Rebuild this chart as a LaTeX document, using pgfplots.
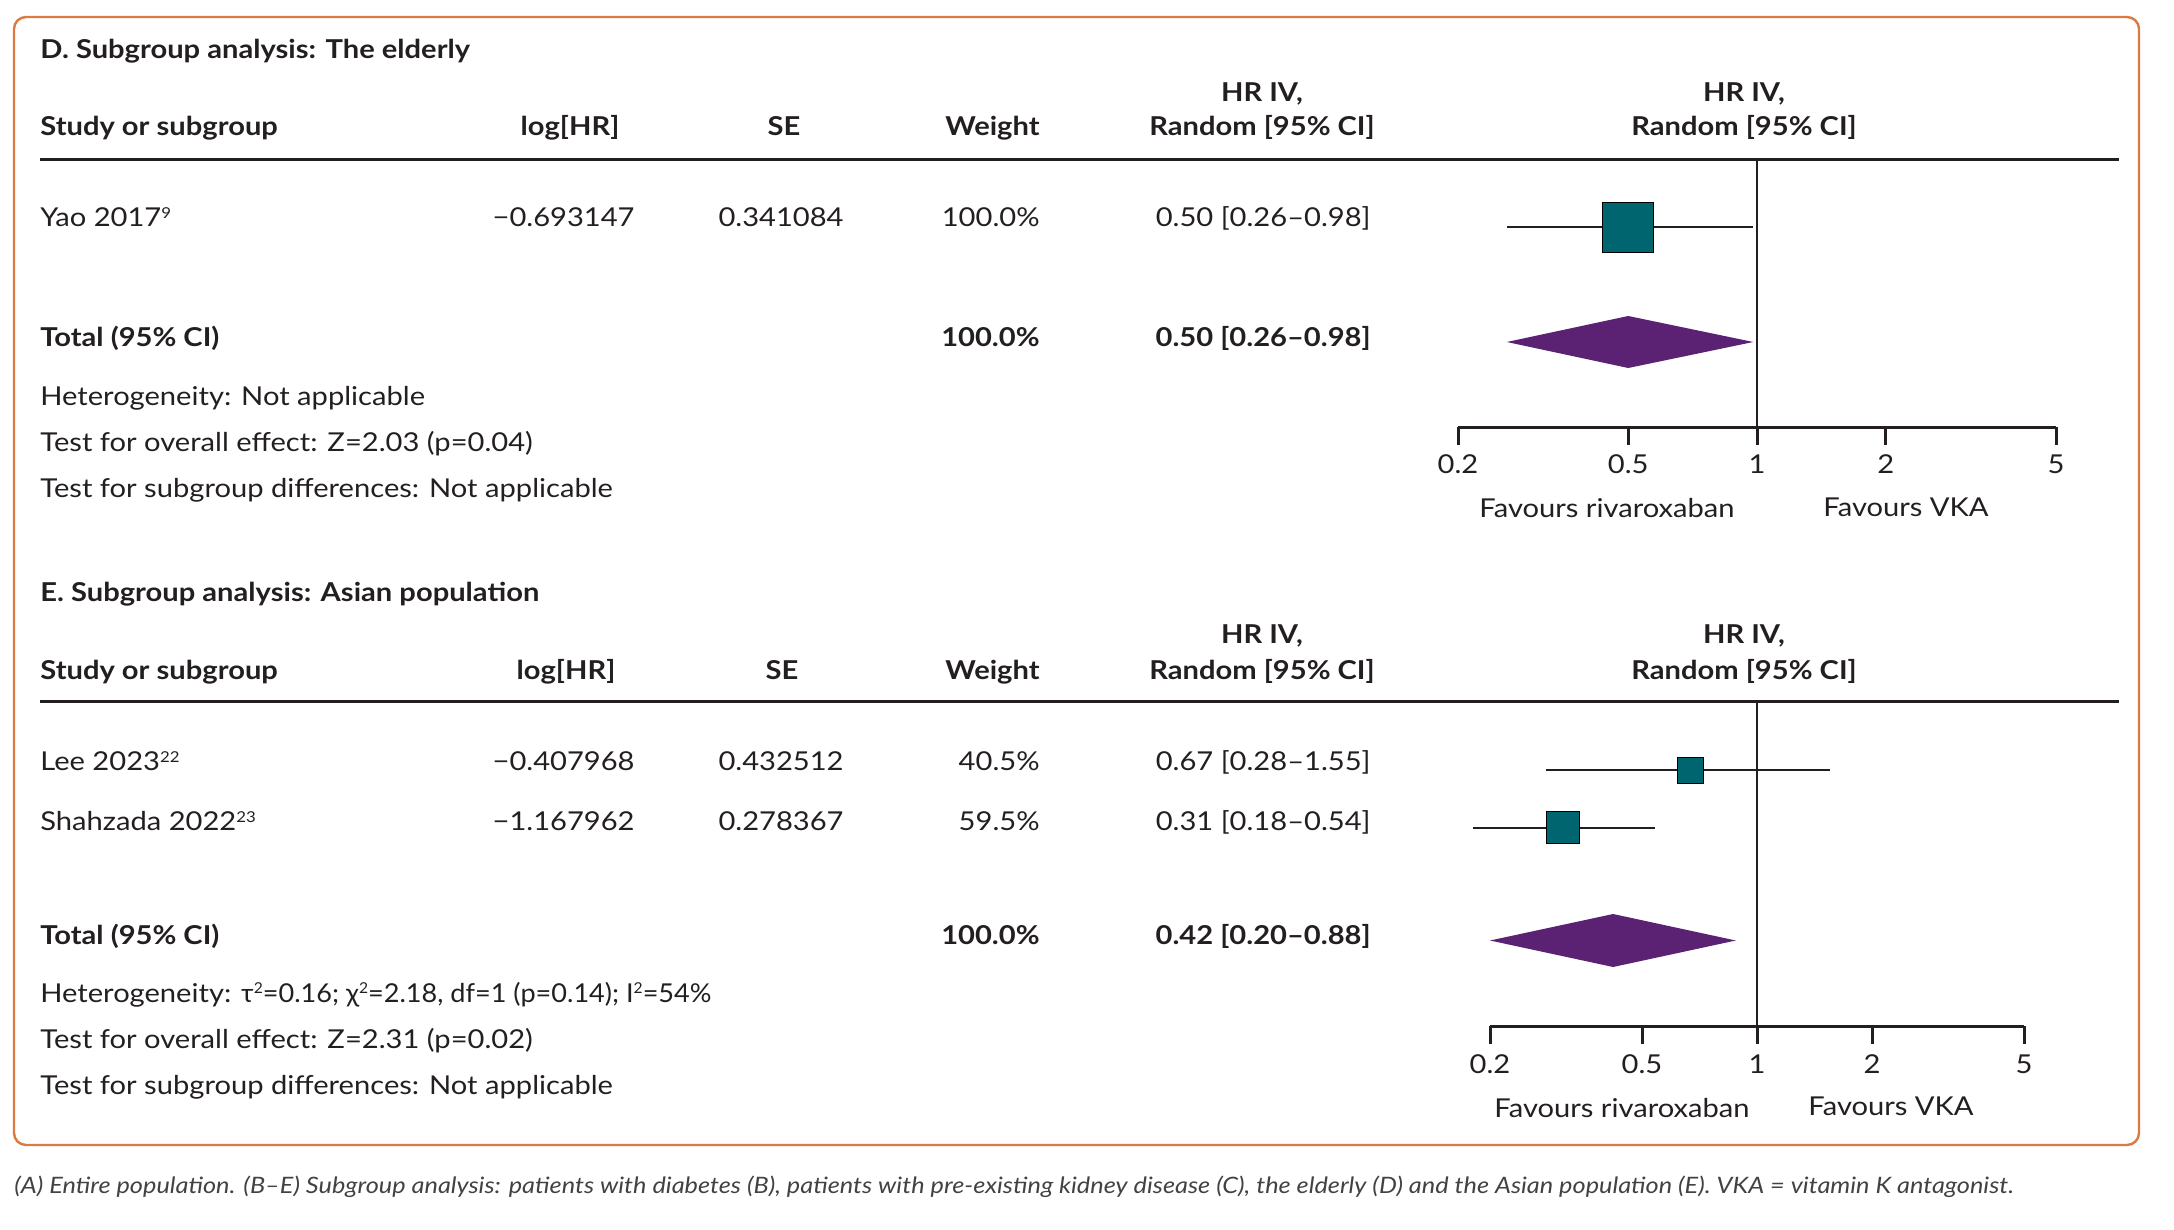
\documentclass[border=0pt]{standalone}
\usepackage{fontspec}
\setmainfont{Lato}[FakeStretch=1.12]
\usepackage{graphicx}
\usepackage{pgfplots}
\pgfplotsset{compat=1.18}
\definecolor{teal1}{HTML}{00656F}
\definecolor{purp}{HTML}{5B2274}
\definecolor{orng}{HTML}{DC7A42}
\definecolor{textc}{HTML}{231F20}
\tikzset{
  txt/.style={font=\fontsize{13}{15}\selectfont, inner sep=0pt, text=textc},
  btxt/.style={font=\fontsize{13}{15}\selectfont\bfseries, inner sep=0pt, text=textc},
}
\newcommand{\sq}[1]{\raisebox{0.62ex}{\fontsize{7.5}{8}\selectfont #1}}
\begin{document}
\begin{tikzpicture}
\begin{scope}[x=0.5pt,y=0.5pt]
\path[use as bounding box] (0,0) rectangle (2174,-1230);
\draw[orng, line width=1.2pt, rounded corners=6pt] (14,-17) rectangle (2139,-1145);

% ---------------- Panel D ----------------
\node[btxt, anchor=base west] at (40,-59) {D. Subgroup analysis: The elderly};
\node[btxt, anchor=base] at (1262,-102) {HR IV,};
\node[btxt, anchor=base] at (1744,-102) {HR IV,};
\node[btxt, anchor=base west] at (40,-136) {Study or subgroup};
\node[btxt, anchor=base] at (570,-136) {log[HR]};
\node[btxt, anchor=base] at (784,-136) {SE};
\node[btxt, anchor=base east] at (1040,-136) {Weight};
\node[btxt, anchor=base] at (1262,-136) {Random [95\% CI]};
\node[btxt, anchor=base] at (1744,-136) {Random [95\% CI]};
\draw[textc, line width=1.5pt] (40,-160) -- (2119,-160);

\node[txt, anchor=base west] at (40,-227) {Yao 2017\sq{9}};
\node[txt, anchor=base east] at (635,-227) {−0.693147};
\node[txt, anchor=base east] at (844,-227) {0.341084};
\node[txt, anchor=base east] at (1040,-227) {100.0\%};
\node[txt, anchor=base east] at (1371,-227) {0.50 [0.26–0.98]};

\node[btxt, anchor=base west] at (40,-346) {Total (95\% CI)};
\node[btxt, anchor=base east] at (1040,-346) {100.0\%};
\node[btxt, anchor=base east] at (1371,-346) {0.50 [0.26–0.98]};

\node[txt, anchor=base west] at (40,-405) {Heterogeneity: Not applicable};
\node[txt, anchor=base west] at (40,-451) {Test for overall effect: Z=2.03 (p=0.04)};
\node[txt, anchor=base west] at (40,-497) {Test for subgroup differences: Not applicable};

\node[txt, anchor=base] at (1607,-517) {Favours rivaroxaban};
\node[txt, anchor=base] at (1906,-516) {Favours VKA};

% ---------------- Panel E ----------------
\node[btxt, anchor=base west] at (40,-601) {E. Subgroup analysis: Asian population};
\node[btxt, anchor=base] at (1262,-643) {HR IV,};
\node[btxt, anchor=base] at (1744,-643) {HR IV,};
\node[btxt, anchor=base west] at (40,-679) {Study or subgroup};
\node[btxt, anchor=base] at (566,-679) {log[HR]};
\node[btxt, anchor=base] at (782,-679) {SE};
\node[btxt, anchor=base east] at (1040,-679) {Weight};
\node[btxt, anchor=base] at (1262,-679) {Random [95\% CI]};
\node[btxt, anchor=base] at (1744,-679) {Random [95\% CI]};
\draw[textc, line width=1.5pt] (40,-701.6) -- (2119,-701.6);

\node[txt, anchor=base west] at (40,-770.5) {Lee 2023\sq{22}};
\node[txt, anchor=base east] at (635,-770.5) {−0.407968};
\node[txt, anchor=base east] at (844,-770.5) {0.432512};
\node[txt, anchor=base east] at (1040,-770.5) {40.5\%};
\node[txt, anchor=base east] at (1371,-770.5) {0.67 [0.28–1.55]};

\node[txt, anchor=base west] at (40,-830.6) {Shahzada 2022\sq{23}};
\node[txt, anchor=base east] at (635,-830.6) {−1.167962};
\node[txt, anchor=base east] at (844,-830.6) {0.278367};
\node[txt, anchor=base east] at (1040,-830.6) {59.5\%};
\node[txt, anchor=base east] at (1371,-830.6) {0.31 [0.18–0.54]};

\node[btxt, anchor=base west] at (40,-944) {Total (95\% CI)};
\node[btxt, anchor=base east] at (1040,-944) {100.0\%};
\node[btxt, anchor=base east] at (1371,-944) {0.42 [0.20–0.88]};

\node[txt, anchor=base west] at (40,-1002) {Heterogeneity: \scalebox{0.93}[1]{τ\sq{2}=0.16; χ\sq{2}=2.18, df=1 (p=0.14); I\sq{2}=54\%}};
\node[txt, anchor=base west] at (40,-1048) {Test for overall effect: Z=2.31 (p=0.02)};
\node[txt, anchor=base west] at (40,-1094) {Test for subgroup differences: Not applicable};

\node[txt, anchor=base] at (1622,-1117) {Favours rivaroxaban};
\node[txt, anchor=base] at (1891,-1115) {Favours VKA};

% caption
\node[font=\fontsize{11.3}{13}\selectfont\itshape, inner sep=0pt, text=textc!85, anchor=base west] at (14,-1193)
 {(A) Entire population. (B–E) Subgroup analysis: patients with diabetes (B), patients with pre-existing kidney disease (C), the elderly (D) and the Asian population (E). VKA = vitamin K antagonist.};
\end{scope}

% ---------------- forest plot D ----------------
\begin{axis}[scale only axis, clip=false, anchor=south west,
    xmode=log, xmin=0.2, xmax=5,
    axis y line=none, axis x line*=bottom,
    axis line style={-, line width=1.5pt, textc},
    xtick={0.2,0.5,1,2,5}, xticklabels={}, xminorticks=false,
    tick align=outside, major tick length=9pt,
    major tick style={line width=1.5pt, textc},
    at={(729pt,-213.5pt)}, width=299pt, height=133.5pt,
    ymin=-427, ymax=-160]
\addplot[textc, line width=1.2pt, mark=none] coordinates {(1,-160) (1,-427)};
\addplot[textc, line width=1.2pt, mark=none] coordinates {(0.26,-227) (0.98,-227)};
\addplot[only marks, mark=square*, mark options={fill=teal1, draw=none}, mark size=12.7pt] coordinates {(0.5,-227.5)};
\addplot[fill=purp, draw=none, mark=none] coordinates {(0.26,-342) (0.5,-316) (0.98,-342) (0.5,-368)} -- cycle;
\node[txt, anchor=base] at (axis cs:0.2,-473) {0.2};
\node[txt, anchor=base] at (axis cs:0.5,-473) {0.5};
\node[txt, anchor=base] at (axis cs:1,-473) {1};
\node[txt, anchor=base] at (axis cs:2,-473) {2};
\node[txt, anchor=base] at (axis cs:5,-473) {5};
\end{axis}

% ---------------- forest plot E ----------------
\begin{axis}[scale only axis, clip=false, anchor=south west,
    xmode=log, xmin=0.2, xmax=5,
    axis y line=none, axis x line*=bottom,
    axis line style={-, line width=1.5pt, textc},
    xtick={0.2,0.5,1,2,5}, xticklabels={}, xminorticks=false,
    tick align=outside, major tick length=9pt,
    major tick style={line width=1.5pt, textc},
    at={(745pt,-513pt)}, width=267pt, height=162.2pt,
    ymin=-1026, ymax=-701.6]
\addplot[textc, line width=1.2pt, mark=none] coordinates {(1,-701.6) (1,-1026)};
\addplot[textc, line width=1.2pt, mark=none] coordinates {(0.28,-770) (1.55,-770)};
\addplot[only marks, mark=square*, mark options={fill=teal1, draw=none}, mark size=6.5pt] coordinates {(0.67,-770)};
\addplot[textc, line width=1.2pt, mark=none] coordinates {(0.18,-828) (0.54,-828)};
\addplot[only marks, mark=square*, mark options={fill=teal1, draw=none}, mark size=8.1pt] coordinates {(0.31,-827.5)};
\addplot[fill=purp, draw=none, mark=none] coordinates {(0.20,-940.5) (0.42,-914) (0.88,-940.5) (0.42,-967)} -- cycle;
\node[txt, anchor=base] at (axis cs:0.2,-1073) {0.2};
\node[txt, anchor=base] at (axis cs:0.5,-1073) {0.5};
\node[txt, anchor=base] at (axis cs:1,-1073) {1};
\node[txt, anchor=base] at (axis cs:2,-1073) {2};
\node[txt, anchor=base] at (axis cs:5,-1073) {5};
\end{axis}
\end{tikzpicture}
\end{document}
